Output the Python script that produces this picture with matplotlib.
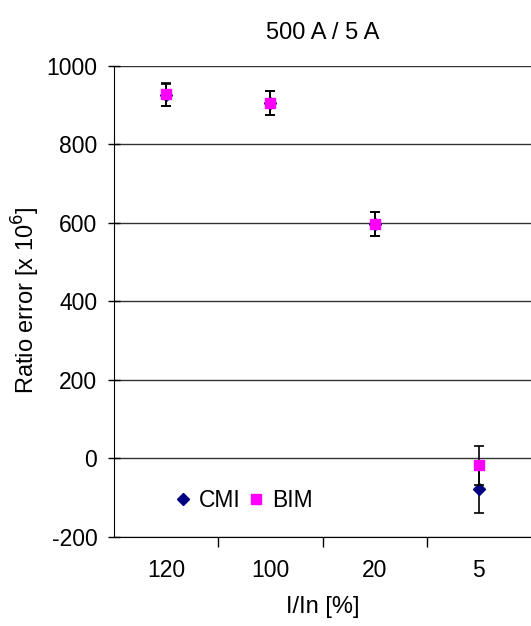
import matplotlib.pyplot as plt
import numpy as np

plt.rcParams['font.family'] = ['Liberation Sans', 'DejaVu Sans']

categories = ["120", "100", "20", "5"]
cmi_vals = [926, 905, 597, -78]
cmi_err = [29, 30, 30, 61]
bim_vals = [928, 906, 598, -17]
bim_err = [29, 30, 30, 50]

fs_tick = 16.5
fs_lab = 17
fig = plt.figure(figsize=(5.31, 6.26), dpi=100)
ax = fig.add_axes([0.2147, 0.1422, 0.7853, 0.7524])

x = np.arange(len(categories))
ax.errorbar(x, cmi_vals, yerr=cmi_err, fmt='D', color='#000080', ms=5.9,
            ecolor='black', elinewidth=1.2, capsize=3.5, capthick=1.2,
            label='CMI', zorder=3)
ax.errorbar(x, bim_vals, yerr=bim_err, fmt='s', color='#FF00FF', ms=7.8,
            ecolor='black', elinewidth=1.2, capsize=3.5, capthick=1.2,
            label='BIM', zorder=4)

ax.set_ylim(-200, 1000)
ax.set_yticks(range(-200, 1001, 200))
ax.set_yticklabels([str(v) for v in range(-200, 1001, 200)])
ax.set_xlim(-0.5, len(categories) - 0.5)
ax.set_xticks(np.arange(0.5, len(categories) - 0.5, 1))
ax.set_xticklabels([])
ax.set_xticks(x, minor=True)
ax.set_xticklabels(categories, minor=True)
ax.tick_params(axis='x', which='minor', length=0, pad=16, labelsize=fs_tick)
ax.tick_params(axis='x', which='major', length=7, width=1, color='black')
ax.tick_params(axis='y', length=8, width=1, labelsize=fs_tick, direction='inout', pad=8)

ax.yaxis.grid(True, color='#333333', linewidth=1)
ax.set_axisbelow(True)
for s in ['top', 'right']:
    ax.spines[s].set_visible(False)
ax.spines['left'].set_color('black')
ax.spines['bottom'].set_color('black')

fig.text(0.049, 0.521, 'Ratio error [x 10$^{6}$]', fontsize=fs_lab, rotation=90,
         ha='center', va='center')
fig.text(0.607, 0.030, 'I/In [%]', fontsize=fs_lab, ha='center', va='center')
fig.text(0.607, 0.947, '500 A / 5 A', fontsize=fs_lab, ha='center', va='center')

handles, labels = ax.get_legend_handles_labels()
handles = [h[0] for h in handles]
ax.legend(handles, labels, loc='center left', bbox_to_anchor=(0.148, 0.078),
          ncol=2, frameon=False, fontsize=fs_tick, handlelength=0.6,
          handletextpad=0.4, columnspacing=0.4, markerscale=1.0,
          borderpad=0, borderaxespad=0)

fig.savefig('out.png', dpi=100, facecolor='white')
